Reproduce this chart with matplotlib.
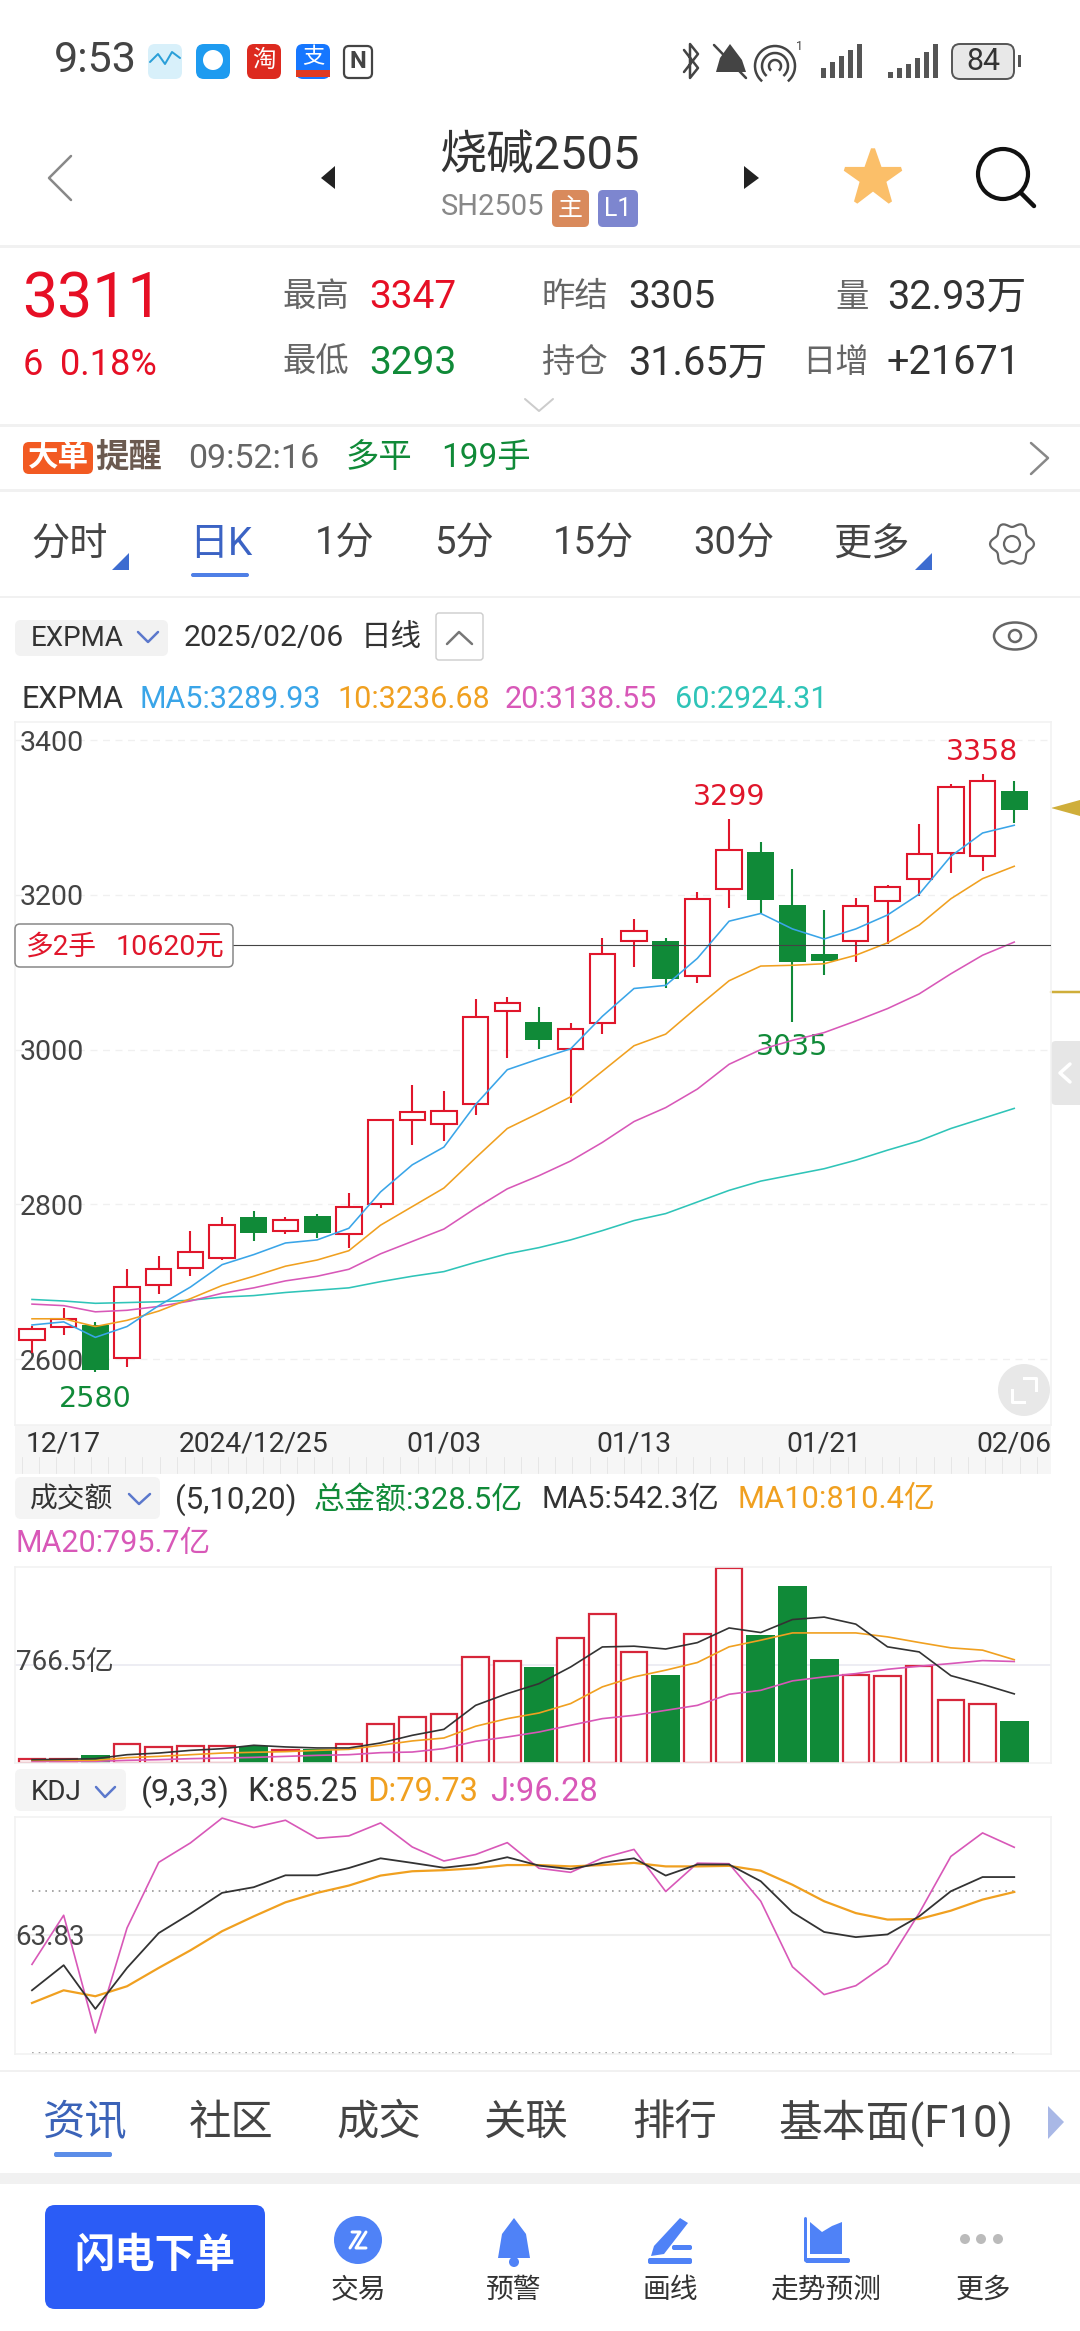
import numpy as np
import matplotlib
matplotlib.use('Agg')
import matplotlib.pyplot as plt
from matplotlib.patches import FancyBboxPatch, Polygon, Circle, Arc, Rectangle
from matplotlib.transforms import ScaledTranslation

plt.rcParams['font.family'] = ['Roboto', 'Noto Sans CJK SC', 'DejaVu Sans']

RED = '#e0162b'
GREEN = '#108a38'
BLUE = '#3aa5e8'
ORANGE = '#f0a020'
PINK = '#d858b8'
TEAL = '#2fc4b8'
DARK = '#333333'
GRAY = '#666666'

# daily candles
opens = [2624, 2642, 2644, 2601, 2696, 2718, 2731, 2783, 2765, 2785, 2762, 2801, 2909, 2904, 2930, 3050,
         3036, 3001, 3034, 3140, 3140, 3095, 3207, 3255, 3187, 3123, 3140, 3192, 3220, 3254, 3250, 3334]
highs = [2643, 2666, 2648, 2716, 2733, 2765, 2783, 2791, 2784, 2788, 2814, 2909, 2954, 2947, 3066, 3068,
         3055, 3035, 3144, 3169, 3144, 3204, 3298, 3268, 3233, 3181, 3196, 3213, 3292, 3343, 3356, 3347]
lows = [2608, 2631, 2583, 2590, 2684, 2707, 2728, 2752, 2761, 2756, 2744, 2795, 2877, 2882, 2915, 2989,
        3001, 2931, 3020, 3107, 3079, 3086, 3183, 3176, 3036, 3097, 3113, 3137, 3199, 3228, 3231, 3293]
closes = [2639, 2652, 2586, 2693, 2717, 2738, 2773, 2763, 2780, 2763, 2797, 2909, 2919, 2921, 3042, 3060,
          3012, 3026, 3123, 3153, 3091, 3195, 3258, 3194, 3113, 3115, 3185, 3210, 3253, 3339, 3347, 3310]

# EXPMA lines
ma5 = [2644, 2648, 2628, 2642, 2669, 2693, 2722, 2735, 2750, 2754, 2769, 2816, 2851, 2874, 2929, 2974,
       2988, 3001, 3043, 3079, 3083, 3118, 3166, 3176, 3156, 3143, 3156, 3174, 3201, 3250, 3280, 3290]
ma10 = [2652, 2652, 2642, 2650, 2662, 2678, 2695, 2707, 2720, 2728, 2740, 2773, 2797, 2821, 2860, 2898,
        2918, 2939, 2972, 3005, 3020, 3055, 3089, 3108, 3109, 3111, 3122, 3138, 3161, 3195, 3221, 3237]
ma20 = [2671, 2669, 2661, 2663, 2668, 2675, 2685, 2692, 2701, 2707, 2716, 2736, 2752, 2768, 2795, 2820,
        2837, 2856, 2880, 2907, 2925, 2949, 2981, 3000, 3012, 3022, 3037, 3053, 3072, 3098, 3122, 3139]
ma60 = [2677, 2675, 2672, 2673, 2674, 2676, 2680, 2682, 2686, 2689, 2692, 2700, 2707, 2713, 2725, 2736,
        2744, 2754, 2766, 2779, 2788, 2803, 2818, 2830, 2838, 2846, 2857, 2870, 2882, 2898, 2911, 2924]

price_ticks = [2600, 2800, 3000, 3200, 3400]
date_idx = [1, 7, 13, 19, 25, 31]
date_labels = ['12/17', '2024/12/25', '01/03', '01/13', '01/21', '02/06']
position_price = 3135

# turnover, in 亿
turnover = [34, 34, 65, 146, 126, 136, 133, 131, 99, 112, 152, 309, 361, 382, 832, 801,
            753, 984, 1172, 869, 691, 1010, 1530, 1002, 1386, 819, 693, 680, 759, 492, 466, 328.5]
turn_ma5 = [26, 29, 34, 65, 78, 99, 112, 139, 126, 118, 118, 157, 217, 264, 452, 544,
            622, 753, 910, 916, 894, 944, 1059, 1023, 1125, 1144, 1089, 911, 871, 685, 617, 542]
turn_ma10 = [21, 21, 21, 42, 52, 65, 78, 84, 89, 99, 107, 139, 173, 196, 288, 348,
             392, 466, 597, 675, 728, 788, 911, 963, 1020, 1020, 1020, 989, 945, 903, 885, 810]
turn_ma20 = [13, 13, 13, 21, 26, 34, 39, 44, 52, 60, 65, 81, 86, 113, 170, 204,
             243, 296, 348, 374, 413, 452, 539, 570, 644, 675, 701, 735, 759, 780, 803, 796]

# KDJ
k_line = [43.3, 52.6, 36.4, 51.6, 64.5, 71.7, 79.4, 81.5, 85.9, 85.9, 88.6, 92.2, 90.5, 88.7, 90.0, 92.6,
          89.5, 88.2, 90.5, 92.2, 85.8, 89.9, 89.9, 83.7, 72.2, 64.9, 63.0, 64.0, 70.7, 80.0, 85.25, 85.25]
d_line = [38.6, 43.3, 41.1, 44.8, 51.6, 58.1, 65.2, 70.7, 75.9, 79.4, 82.1, 85.8, 87.4, 87.8, 88.5, 89.7,
          89.7, 89.2, 89.7, 90.5, 89.2, 89.2, 89.4, 87.6, 82.4, 76.3, 71.9, 69.5, 69.7, 72.8, 76.9, 79.73]
j_line = [52.9, 71.1, 27.5, 66.4, 90.7, 97.9, 107.1, 103.6, 106.3, 99.6, 100.5, 105.3, 96.4, 91.2, 93.6, 98.0,
          88.5, 87.0, 92.3, 95.5, 79.9, 90.4, 90.2, 76.3, 52.0, 41.7, 45.0, 53.2, 71.9, 92.9, 101.6, 96.28]

W, H = 1080, 2331
fig = plt.figure(figsize=(W / 100, H / 100), dpi=100, facecolor='white')

# whole screen in pixels, for the app chrome
bg = fig.add_axes([0, 0, 1, 1], zorder=0)
bg.set_xlim(0, W)
bg.set_ylim(H, 0)
bg.axis('off')


def txt(x, y, s, size, color=DARK, ha='left', **kw):
    # text sits a touch low in the screenshot
    return bg.text(x, y + 3, s, fontsize=size, color=color, ha=ha, va='center', zorder=6, **kw)


def box(x0, y0, x1, y1, fc, ec='none', r=6, lw=0, z=2):
    p = FancyBboxPatch((x0, y0), x1 - x0, y1 - y0, boxstyle='round,pad=0,rounding_size=%s' % r,
                       fc=fc, ec=ec, lw=lw, zorder=z)
    bg.add_patch(p)


def line(xs, ys, color, lw=2, z=3, **kw):
    bg.plot(xs, ys, color=color, lw=lw * 0.72, zorder=z, solid_capstyle='round', **kw)


def tri(pts, color, z=3):
    bg.add_patch(Polygon(pts, closed=True, fc=color, ec='none', zorder=z))


# dividers
for y0, y1 in [(245, 248), (424, 427), (489, 492), (596, 598), (2070, 2072), (2173, 2184)]:
    bg.add_patch(Rectangle((0, y0), W, y1 - y0, fc='#f1f1f1', ec='none', zorder=1))

# status bar
txt(54, 58, '9:53', 31, '#444444')
box(148, 44, 182, 79, '#d8f0fa', r=7)
line([150, 158, 165, 172, 180], [62, 54, 64, 52, 58], '#2a9fd8', 2)
box(196, 44, 230, 79, '#1e9bf0', r=8)
bg.add_patch(Circle((213, 60), 10, fc='white', ec='none', zorder=3))
box(247, 44, 281, 79, '#dd2a1f', r=7)
txt(264, 57, '淘', 17, 'white', ha='center')
box(296, 44, 330, 79, '#1677ff', r=7)
bg.add_patch(Rectangle((296, 70), 34, 7, fc='#e03a20', ec='none', zorder=3))
txt(313, 55, '支', 16, 'white', ha='center')
box(344, 46, 372, 78, 'white', ec='#444444', r=5, lw=1.6)
txt(358, 58, 'N', 17, '#444444', ha='center', fontweight='bold')
line([684, 698, 690, 690, 698, 684], [50, 68, 78, 44, 54, 72], '#444444', 2.5)
tri([(730, 44), (742, 60), (746, 72), (716, 72), (720, 58)], '#444444')
line([714, 746], [45, 78], '#444444', 2.5)
for r in [6, 13, 20]:
    bg.add_patch(Arc((775, 66), r * 2, r * 2, theta1=130, theta2=50, ec='#444444', lw=1.8, zorder=3))
txt(796, 44, '1', 9, '#444444')
for i, h in enumerate([10, 16, 22, 28, 34]):
    bg.add_patch(Rectangle((821 + i * 9, 78 - h), 5, h, fc='#555555', ec='none', zorder=3))
for i, h in enumerate([6, 10, 14, 20, 26, 34]):
    bg.add_patch(Rectangle((888 + i * 9, 78 - h), 5, h, fc='#555555', ec='none', zorder=3))
box(952, 44, 1014, 79, '#e8e8e8', ec='#555555', r=8, lw=1.4)
bg.add_patch(Rectangle((1018, 55), 3, 12, fc='#555555', ec='none', zorder=3))
txt(983, 59, '84', 22, '#333333', ha='center')

# title row
line([71, 49, 71], [156, 178, 200], '#888888', 2.5)
tri([(335, 166), (335, 189), (321, 178)], '#222222')
tri([(744, 166), (744, 189), (759, 178)], '#222222')
txt(539, 153, '烧碱2505', 34, '#333333', ha='center')
txt(441, 204, 'SH2505', 21, '#888888')
box(552, 190, 589, 227, '#d98a5c', r=5)
txt(570, 206, '主', 18, 'white', ha='center')
box(598, 190, 638, 227, '#7d86cf', r=5)
txt(618, 206, 'L1', 18, 'white', ha='center')
bg.plot([873], [178], marker='*', ms=42, color='#fbbf69', mec='#fbbf69', mew=3, mfc='#fbbf69', zorder=3)
bg.add_patch(Circle((1003, 174), 25, fc='none', ec='#111111', lw=3, zorder=3))
line([1021, 1034], [193, 206], '#111111', 4.5)

# quote block
txt(22, 298, '3311', 45, '#e60f25')
txt(23, 362, '6', 26, '#e60f25')
txt(60, 362, '0.18%', 26, '#e60f25')
y1, y2 = 294, 360
txt(282, y1, '最高', 24, GRAY)
txt(369, y1, '3347', 28, '#e60f25')
txt(282, y2, '最低', 24, GRAY)
txt(369, y2, '3293', 28, GREEN)
txt(541, y1, '昨结', 24, GRAY)
txt(628, y1, '3305', 28, DARK)
txt(541, y2, '持仓', 24, GRAY)
txt(628, y2, '31.65万', 28.5, DARK)
txt(835, y1, '量', 24, GRAY)
txt(887, y1, '32.93万', 28.5, DARK)
txt(802, y2, '日增', 24, GRAY)
txt(887, y2, '+21671', 28.5, DARK)
line([525, 539, 553], [399, 411, 399], '#cccccc', 2)

# big order strip
box(23, 442, 93, 474, '#f25a22', r=6)
txt(58, 454, '大单', 22, 'white', ha='center', fontweight='bold')
txt(95, 455, '提醒', 24, '#6b5a50', fontweight='bold')
txt(188, 456, '09:52:16', 24.5, GRAY)
txt(346, 455, '多平', 24, GREEN)
txt(441, 455, '199手', 24, GREEN)
line([1031, 1048, 1031], [443, 458, 474], '#888888', 2.5)

# period tabs
tab_y = 541
for x, s in [(31, '分时'), (315, '1分'), (434, '5分'), (553, '15分'), (693, '30分'), (833, '更多')]:
    txt(x, tab_y, s, 27.5, '#444444')
txt(189, tab_y, '日K', 28, '#3b63c4')
box(191, 573, 249, 577, '#4f7fe6', r=2)
tri([(129, 553), (129, 570), (112, 570)], '#3d6cd0')
tri([(932, 553), (932, 570), (915, 570)], '#3d6cd0')
# gear outline
gear_a = np.radians(np.arange(0, 361, 5))
gear_r = 19.5 + 2.5 * np.cos(6 * gear_a)
bg.add_patch(Polygon(np.c_[1012 + gear_r * np.cos(gear_a), 544 + gear_r * np.sin(gear_a)], closed=True, fc='white',
                     ec='#666666', lw=1.6, joinstyle='round', zorder=3))
bg.add_patch(Circle((1012, 544), 8, fc='white', ec='#666666', lw=1.6, zorder=4))

# chart header
box(15, 620, 168, 656, '#f2f2f2', r=6)
txt(31, 635, 'EXPMA', 20, '#333333')
line([138, 148, 158], [632, 642, 632], '#5b78cc', 2.5)
txt(184, 635, '2025/02/06', 21.7, '#333333')
txt(361, 635, '日线', 22, '#333333')
box(436, 613, 483, 660, 'white', ec='#cccccc', r=3, lw=1)
line([447, 459, 472], [644, 632, 644], '#777777', 2.5)
bg.add_patch(Arc((1015, 636), 42, 27, fc='none', ec='#666666', lw=1.8, zorder=3))
bg.add_patch(Circle((1015, 636), 6, fc='none', ec='#666666', lw=1.8, zorder=3))
lab_y = 697
txt(22, lab_y, 'EXPMA', 22, '#333333')
txt(139, lab_y, 'MA5:3289.93', 22, BLUE)
txt(337, lab_y, '10:3236.68', 22, ORANGE)
txt(505, lab_y, '20:3138.55', 22, PINK)
txt(675, lab_y, '60:2924.31', 22, TEAL)

# date strip and its ruler marks
bg.add_patch(Rectangle((15, 1425), 1036, 49, fc='#f6f6f6', ec='none', zorder=1))
for x in np.arange(22, 1051, 17.2):
    line([x, x], [1457, 1473], '#e6e6e6', 1, z=2)

# turnover header
box(15, 1477, 160, 1519, '#f4f4f4', r=6)
txt(30, 1497, '成交额', 20, '#333333')
line([129, 139, 150], [1494, 1504, 1494], '#5b78cc', 2.5)
txt(175, 1497, '(5,10,20)', 22.5, '#333333')
txt(314, 1497, '总金额:328.5亿', 22.3, GREEN)
txt(542, 1497, 'MA5:542.3亿', 22, '#333333')
txt(737, 1497, 'MA10:810.4亿', 22.2, ORANGE)
txt(16, 1540, 'MA20:795.7亿', 22, PINK)

# KDJ header
box(15, 1769, 126, 1811, '#f4f4f4', r=6)
txt(31, 1789, 'KDJ', 20, '#333333')
line([96, 105, 115], [1787, 1797, 1787], '#5b78cc', 2.5)
txt(141, 1789, '(9,3,3)', 23, '#333333')
txt(247, 1789, 'K:85.25', 23.5, '#333333')
txt(367, 1789, 'D:79.73', 23.5, ORANGE)
txt(490, 1789, 'J:96.28', 23.5, PINK)

# gold cost marks and the side handle
tri([(1051, 808), (1080, 800), (1080, 816)], '#cfae3a')
line([1051, 1080], [992, 992], '#cfae3a', 2.5)
box(1051, 1041, 1084, 1105, '#e6e6e6', r=5)
line([1070, 1060, 1070], [1064, 1073, 1082], 'white', 3.5)

# bottom tabs
txt(43, 2120, '资讯', 30.5, '#3b63b8')
for x, s in [(189, '社区'), (336, '成交'), (484, '关联'), (632, '排行')]:
    txt(x, 2120, s, 30.5, '#444444')
txt(778, 2120, '基本面(F10)', 31.5, '#444444')
box(54, 2152, 112, 2157, '#5b8de8', r=2)
tri([(1048, 2106), (1048, 2139), (1064, 2122)], '#a9b8e6')

# bottom bar
box(45, 2205, 265, 2309, '#2b5cf6', r=10)
txt(155, 2253, '闪电下单', 29, 'white', ha='center', fontweight='bold')
ICON = '#4f82f7'
bg.add_patch(Circle((358, 2240), 24, fc=ICON, ec='none', zorder=3))
line([352, 360, 350], [2232, 2232, 2248], 'white', 3, z=4)
line([366, 356, 366], [2232, 2248, 2248], 'white', 3, z=4)
tri([(514, 2218), (526, 2234), (530, 2258), (498, 2258), (502, 2234)], ICON)
bg.add_patch(Circle((514, 2262), 5, fc=ICON, ec='none', zorder=3))
tri([(680, 2218), (688, 2223), (664, 2254), (651, 2256), (654, 2246)], ICON)
box(672, 2245, 692, 2250, ICON, r=2)
box(648, 2258, 692, 2264, ICON, r=2)
tri([(810, 2222), (822, 2232), (832, 2226), (842, 2222), (842, 2254), (810, 2254)], ICON)
box(805, 2258, 850, 2263, ICON, r=2)
line([805, 805], [2218, 2260], ICON, 3)
for x in [965, 981, 998]:
    bg.add_patch(Circle((x, 2239), 5, fc='#bbbbbb', ec='none', zorder=3))
for x, s in [(358, '交易'), (514, '预警'), (670, '画线'), (826, '走势预测'), (983, '更多')]:
    txt(x, 2287, s, 20, '#333333', ha='center')


def panel(y0, y1):
    x0, x1 = 15, 1051
    a = fig.add_axes([x0 / W, 1 - y1 / H, (x1 - x0) / W, (y1 - y0) / H], zorder=2, facecolor='none')
    a.set_xlim(-0.536, 32.16)
    for s in a.spines.values():
        s.set_color('#f2f2f2')
        s.set_linewidth(1.2)
    return a


x = np.arange(len(opens))
opens = np.array(opens)
closes = np.array(closes)
up = closes >= opens

# candles
ax = panel(722, 1425)
ax.set_ylim(2514.7, 3423.5)
ax.set_yticks(price_ticks)
ax.set_yticklabels([str(v) for v in price_ticks], ha='left', fontsize=20.5, color='#444444')
ax.tick_params(axis='y', length=0, pad=-3.5)
ax.set_xticks(date_idx)
ax.set_xticklabels(date_labels, fontsize=20.3, color='#333333')
ax.tick_params(axis='x', length=0, pad=4)
ax.grid(axis='y', color='#f0f0f0', lw=1, ls=(0, (5, 4)))
ax.set_axisbelow(True)
ax.vlines(x, lows, highs, color=[RED if u else GREEN for u in up], lw=1.5, zorder=2)
ax.bar(x[up], (closes - opens)[up], bottom=opens[up], width=0.8, facecolor='white', edgecolor=RED, lw=1.5, zorder=3)
ax.bar(x[~up], (opens - closes)[~up], bottom=closes[~up], width=0.85, color=GREEN, zorder=3)
for vals, c in [(ma60, TEAL), (ma20, PINK), (ma10, ORANGE), (ma5, BLUE)]:
    ax.plot(x, vals, color=c, lw=1.15, zorder=4)
ax.axhline(position_price, color='#444444', lw=0.8, zorder=5)
ext = dict(textcoords='offset points', ha='center', va='center', fontsize=20.5, family='DejaVu Sans')
ax.annotate('3299', (22, highs[22]), xytext=(0, 16), color=RED, **ext)
ax.annotate('3358', (30, highs[30]), xytext=(0, 16), color=RED, **ext)
ax.annotate('3035', (24, lows[24]), xytext=(0, -18), color=GREEN, **ext)
ax.annotate('2580', (2, lows[2]), xytext=(0, -19), color=GREEN, **ext)

# position tag and expand button sit over the candle panel
top = fig.add_axes([0, 0, 1, 1], zorder=3, facecolor='none')
top.set_xlim(0, W)
top.set_ylim(H, 0)
top.axis('off')
top.add_patch(FancyBboxPatch((15, 924), 218, 43, boxstyle='round,pad=0,rounding_size=5', fc='white', ec='#888888', lw=1.1))
top.text(26, 947, '多2手', fontsize=20, color=RED, va='center')
top.text(224, 947, '10620元', fontsize=20.5, color=RED, va='center', ha='right')
top.add_patch(Circle((1024, 1390), 26, fc='#e8e8e8', ec='none'))
top.plot([1012, 1012, 1024], [1390, 1402, 1402], color='white', lw=2.2)
top.plot([1024, 1036, 1036], [1378, 1378, 1390], color='white', lw=2.2)

# turnover
ax2 = panel(1567, 1763)
ax2.set_ylim(0, 1537)
ax2.set_xticks([])
ax2.set_yticks([766.5])
ax2.set_yticklabels(['766.5亿'], ha='left', fontsize=20, color='#444444')
ax2.tick_params(axis='y', length=0, pad=-0.8)
for lab in ax2.get_yticklabels():
    lab.set_transform(lab.get_transform() + ScaledTranslation(0, 4 / 72, fig.dpi_scale_trans))
ax2.grid(axis='y', color='#ececf2', lw=1.3)
ax2.set_axisbelow(True)
turnover = np.array(turnover)
ax2.bar(x[up], turnover[up], width=0.84, facecolor='white', edgecolor='#d6263a', lw=1.6, zorder=2)
ax2.bar(x[~up], turnover[~up], width=0.92, color=GREEN, zorder=2)
ax2.plot(x, turn_ma20, color=PINK, lw=1.2, zorder=3)
ax2.plot(x, turn_ma10, color=ORANGE, lw=1.2, zorder=3)
ax2.plot(x, turn_ma5, color='#333333', lw=1.2, zorder=3)

# KDJ
ax3 = panel(1817, 2054)
ax3.set_ylim(19.7, 107.5)
ax3.set_xticks([])
ax3.set_yticks([63.83])
ax3.set_yticklabels(['63.83'], ha='left', fontsize=20, color='#444444')
ax3.tick_params(axis='y', length=0, pad=0)
ax3.grid(axis='y', color='#eeeeee', lw=1.5)
ax3.set_axisbelow(True)
ax3.hlines([80, 20.2], 0, 31, color='#999999', lw=1.2, ls=(0, (1, 3)))
ax3.plot(x, j_line, color=PINK, lw=1.2, zorder=3)
ax3.plot(x, d_line, color=ORANGE, lw=1.6, zorder=3)
ax3.plot(x, k_line, color='#333333', lw=1.3, zorder=3)

fig.savefig('out.png', dpi=100)
